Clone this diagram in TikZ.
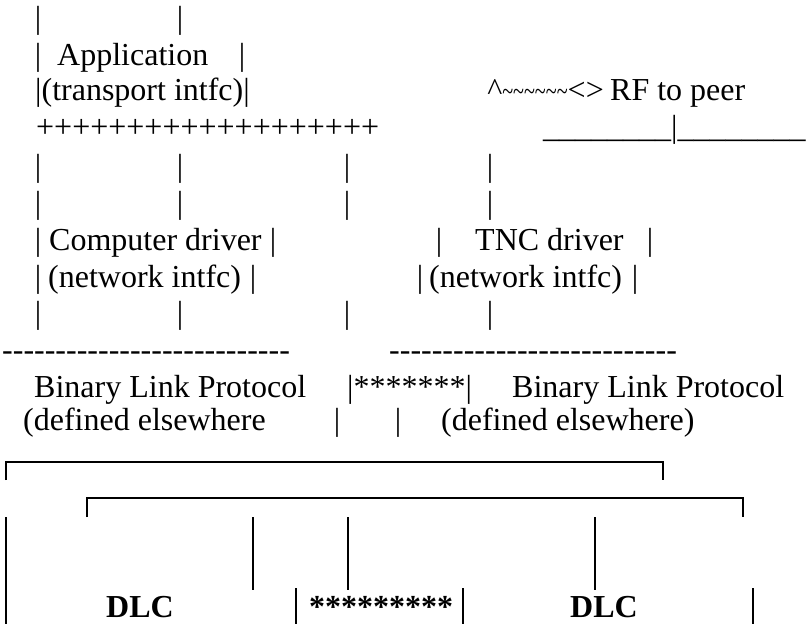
\documentclass[tikz,border=0pt]{standalone}
\usepackage{fontspec}
\setmainfont{Liberation Serif}
\usepackage{tikz}

\newcommand\dashrun[1]{\foreach \k in {1,...,#1}{-\kern0pt}}
\newcommand\lowrun[1]{\foreach \k in {1,...,#1}{\_}}

\begin{document}
\begin{tikzpicture}[x=1pt, y=1pt,
  txt/.style={anchor=base west, inner sep=0pt, font=\fontsize{32}{36}\selectfont},
  bar/.style={anchor=base, inner sep=0pt, font=\fontsize{32}{36}\selectfont},
  boldtxt/.style={txt, font=\fontsize{32}{36}\selectfont\bfseries},
  boxline/.style={line width=2.6pt}]
\useasboundingbox (0, 0) rectangle (806, -624);

% upper stack: vertical bars
\foreach \x in {38, 180}
  \node[bar] (bar-0-\x) at (\x, -28) {|};
\foreach \y/\r in {176/4, 213/5, 323/8}
  \foreach \x in {38, 180, 347, 490}
    \node[bar] (bar-\r-\x) at (\x, -\y) {|};

% application
\node[bar] (bar-1-38) at (38, -65) {|};
\node[txt] (app) at (57, -65) {Application};
\node[bar] (bar-1-242) at (242, -65) {|};
\node[txt] (transport) at (35, -100) {|(transport intfc)|};
\node[txt] (plusrow) at (36, -137) {+++++++++++++++++++};

% RF side
\node[txt, anchor=base east] (rfmark) at (604, -100)
  {\textasciicircum\scalebox{0.63}[0.85]{\textasciitilde\textasciitilde\textasciitilde\textasciitilde\textasciitilde\textasciitilde}<>};
\node[txt] (rf) at (610, -100) {RF to peer};
\node[txt] (peerline) at (543, -137) {\lowrun{8}|\lowrun{8}};

% drivers
\node[bar] (bar-6-38) at (38, -250) {|};
\node[txt] (compdrv) at (49, -250) {Computer driver};
\node[bar] (bar-6-273) at (273, -250) {|};
\node[bar] (bar-6-439) at (439, -250) {|};
\node[txt] (tncdrv) at (475, -250) {TNC driver};
\node[bar] (bar-6-650) at (650, -250) {|};

\node[bar] (bar-7-38) at (38, -287) {|};
\node[txt] (compnet) at (48, -287) {(network intfc)};
\node[bar] (bar-7-253) at (253, -287) {|};
\node[bar] (bar-7-420) at (420, -287) {|};
\node[txt] (tncnet) at (429, -287) {(network intfc)};
\node[bar] (bar-7-635) at (635, -287) {|};

% link protocol
\node[txt] (dashL) at (2, -360) {\dashrun{27}};
\node[txt] (dashR) at (389, -360) {\dashrun{27}};
\node[txt] (blpL) at (34, -397) {Binary Link Protocol};
\node[txt] (stars) at (347, -397) {|*******|};
\node[txt] (blpR) at (512, -397) {Binary Link Protocol};
\node[txt] (defL) at (23, -430) {(defined elsewhere};
\node[bar] (gapL) at (337, -430) {|};
\node[bar] (gapR) at (398, -430) {|};
\node[txt] (defR) at (441, -430) {(defined elsewhere)};

% DLC boxes
\draw[boxline] (6, -480) -- (6, -462) -- (663, -462) -- (663, -480);
\draw[boxline] (87, -517) -- (87, -498) -- (743, -498) -- (743, -517);
\foreach \x in {253, 348, 595}
  \draw[boxline] (\x, -517) -- (\x, -590);
\draw[boxline] (6, -517) -- (6, -624);
\foreach \x in {296, 463, 753}
  \draw[boxline] (\x, -588) -- (\x, -624);
\node[boldtxt] (dlcL) at (106, -617) {DLC};
\node[boldtxt] (starsB) at (309, -617) {*********};
\node[boldtxt] (dlcR) at (570, -617) {DLC};
\end{tikzpicture}
\end{document}
